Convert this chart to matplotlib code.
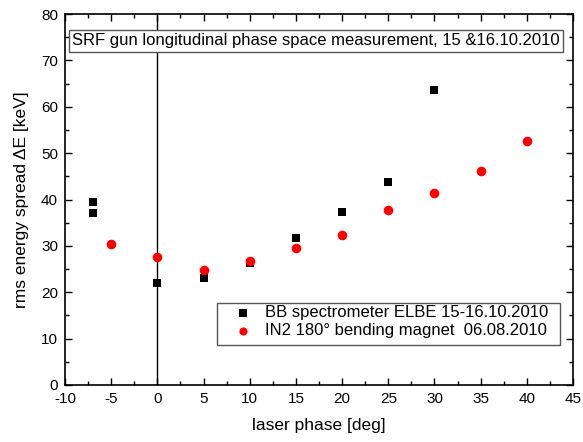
import matplotlib
matplotlib.use("Agg")
import matplotlib.pyplot as plt
from matplotlib.ticker import MultipleLocator
from matplotlib.patches import Rectangle

plt.rcParams['font.family'] = ['Liberation Sans', 'DejaVu Sans']
plt.rcParams['axes.unicode_minus'] = False

bb_phase = [-7, -7, 0, 5, 10, 15, 20, 25, 30]
bb_spread = [39.5, 37.0, 22.0, 23.1, 26.4, 31.8, 37.2, 43.7, 63.6]
in2_phase = [-5, 0, 5, 10, 15, 20, 25, 30, 35, 40]
in2_spread = [30.4, 27.6, 24.9, 26.7, 29.5, 32.3, 37.8, 41.5, 46.1, 52.6]

bb_label = "BB spectrometer ELBE 15-16.10.2010"
in2_label = "IN2 180° bending magnet  06.08.2010"
title = "SRF gun longitudinal phase space measurement, 15 &16.10.2010"

W, H = 583, 442
fig = plt.figure(figsize=(W/100, H/100), dpi=100)
L, R, T, B = 65, 573, 14, 385
ax = fig.add_axes([L/W, 1-B/H, (R-L)/W, (B-T)/H])

def ax_x(px):
    return (px - L) / (R - L)

def ax_y(py):
    return (B - py) / (B - T)

ax.axvline(0, color='black', lw=1.0, zorder=1)
ax.scatter(bb_phase, bb_spread, marker='s', s=40, color='black', label=bb_label, zorder=3, linewidths=0)
ax.scatter(in2_phase, in2_spread, marker='o', s=48, color='#ff0000', label=in2_label, zorder=3, linewidths=0)

ax.set_xlim(-10, 45)
ax.set_ylim(0, 80)
ax.xaxis.set_major_locator(MultipleLocator(5))
ax.xaxis.set_minor_locator(MultipleLocator(2.5))
ax.yaxis.set_major_locator(MultipleLocator(10))
ax.yaxis.set_minor_locator(MultipleLocator(5))
ax.tick_params(which='both', direction='in', top=True, right=True, labelsize=11, width=1)
ax.tick_params(which='major', length=5, pad=5)
ax.tick_params(which='minor', length=3)
for s in ax.spines.values():
    s.set_linewidth(1.2)

ax.set_xlabel("laser phase [deg]", fontsize=12.5, labelpad=9)
ax.set_ylabel("rms energy spread ΔE [keV]", fontsize=12.5, labelpad=9)

ax.text(0.4945, 0.928, title, transform=ax.transAxes, ha='center', va='center', fontsize=12,
        bbox=dict(boxstyle='square,pad=0.2', facecolor='white', edgecolor='#555555', lw=1), zorder=5)

# legend frame
x0, x1, y0, y1 = 217, 560, 303, 345
ax.add_patch(Rectangle((ax_x(x0), ax_y(y1)), ax_x(x1) - ax_x(x0), ax_y(y0) - ax_y(y1),
                       transform=ax.transAxes, facecolor='white', edgecolor='#555555', lw=1, zorder=4))
leg = ax.legend(loc='upper left', bbox_to_anchor=(ax_x(234.6), ax_y(305.5)), fontsize=12, frameon=False,
                borderpad=0, handletextpad=0.82, labelspacing=0.18, handlelength=1.0, borderaxespad=0,
                markerscale=0.85)
leg.set_zorder(5)

fig.savefig("out.png", dpi=100)
